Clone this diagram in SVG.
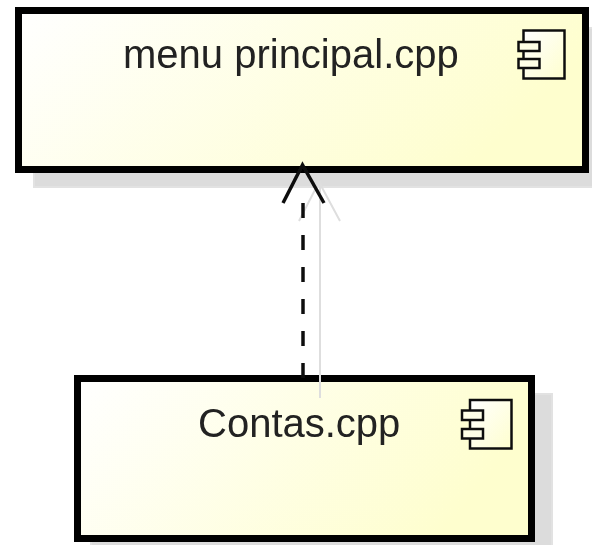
<svg xmlns="http://www.w3.org/2000/svg" width="592" height="545" viewBox="0 0 592 545">
<style>
.box{stroke:#000;stroke-width:7;stroke-linejoin:miter}
.shadow{fill:#dcdcdc;stroke:#e2e2e2;stroke-width:2}
.icon rect{stroke:#111;stroke-width:2.5}
.label{font-family:"Liberation Sans",Arial,sans-serif;font-size:40px;fill:#222}
.dep{fill:none;stroke:#111;stroke-width:3.5}
.depshadow{fill:none;stroke:#dedede;stroke-width:2}
</style>
<defs>
<linearGradient id="g" x1="0" y1="0" x2="1" y2="1"><stop offset="0" stop-color="#ffffff"/><stop offset="1" stop-color="#fefece"/></linearGradient>
<linearGradient id="g2" x1="0" y1="0" x2="1" y2="0.29"><stop offset="0" stop-color="#ffffff"/><stop offset="1" stop-color="#fefece"/></linearGradient>
<filter id="soft" x="-5%" y="-5%" width="110%" height="110%"><feGaussianBlur stdDeviation="0.5"/></filter>
</defs>
<rect width="592" height="545" fill="#fff"/>
<g id="shadows" filter="url(#soft)">
<rect class="shadow" x="34" y="28" width="570" height="159"/>
<rect class="shadow" x="91" y="394" width="461" height="165"/>
</g>
<g id="menu-principal" filter="url(#soft)">
<rect class="box" x="18.500" y="10.500" width="567" height="159" fill="url(#g2)"/>
<text class="label" x="123" y="68">menu principal.cpp</text>
<g class="icon"><rect x="523.500" y="30.500" width="41" height="48" fill="url(#g)"/><rect x="518.500" y="42" width="21" height="9" fill="#fefee6"/><rect x="518.500" y="59" width="21" height="9" fill="#fefee6"/></g>
</g>
<g id="contas" filter="url(#soft)">
<rect class="box" x="77.500" y="378.500" width="454" height="160" fill="url(#g2)"/>
<text class="label" x="198" y="437">Contas.cpp</text>
<g class="icon"><rect x="470" y="400" width="41.500" height="48.500" fill="url(#g)"/><rect x="462" y="410.500" width="21" height="9.500" fill="#fefee6"/><rect x="462" y="429" width="21" height="9.500" fill="#fefee6"/></g>
</g>
<g id="connectors" filter="url(#soft)">
<path class="depshadow" d="M320 398V185M299 221L319 182L340 221"/>
<path class="dep" d="M303 378V203" stroke-dasharray="15 17"/>
<path class="dep" d="M283 203L302.500 165L324 203"/>
</g>
</svg>
